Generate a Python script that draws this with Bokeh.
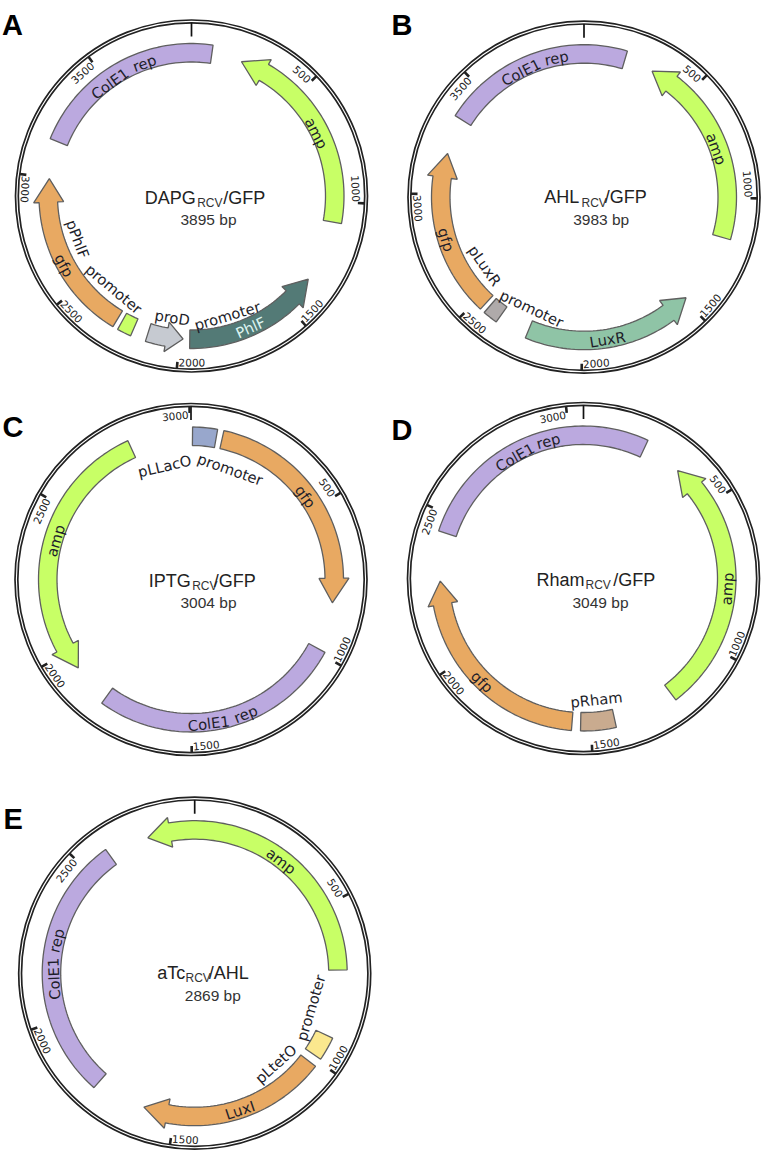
import math
from bokeh.plotting import figure
from bokeh.models import Range1d
from bokeh.core.properties import value
from bokeh.embed import file_html
from bokeh.resources import INLINE

# ---- data: plasmid sizes (bp) and features ----
panel_letters = ["A", "B", "C", "D", "E"]
sizes = [3895, 3983, 3004, 3049, 2869]
name_main = ["DAPG", "AHL", "IPTG", "Rham", "aTc"]
name_sub = ["RCV", "RCV", "RCV", "RCV", "RCV"]
name_tail = ["/GFP", "/GFP", "/GFP", "/GFP", "/AHL"]

# arrows: (tail bp, head-base bp, tip bp, colour key)
arrows_A = [(1087, 328, 221, "amp"), (2283, 2894, 2997, "gfp"), (2138, 2056, 1984, "grey"), (1955, 1461, 1357, "phlf")]
arrows_B = [(1175, 416, 314, "amp"), (2465, 3076, 3184, "gfp"), (2242, 1591, 1489, "luxr")]
arrows_C = [(104, 747, 829, "gfp"), (2800, 2016, 1935, "amp")]
arrows_D = [(1209, 430, 348, "amp"), (1563, 2199, 2278, "gfp")]
arrows_E = [(707, -79, -152, "amp"), (1017, 1523, 1600, "gfp")]
# blocks: (from bp, to bp, colour key)
blocks_A = [(3160, 3983, "cole1"), (2202, 2261, "amp")]
blocks_B = [(3345, 4166, "cole1"), (2380, 2444, "pluxr")]
blocks_C = [(989, 1801, "cole1"), (5, 84, "plac")]
blocks_D = [(2441, 3261, "cole1"), (1419, 1534, "prham")]
blocks_E = [(1764, 2584, "cole1"), (918, 991, "ptet")]
# labels: (word, degrees clockwise from top, radius)
labels_A = [("ColE1", 324, 139), ("rep", 340.5, 141), ("amp", 63.3, 140), ("gfp", 241.4, 145),
            ("pPhlF", 249.3, 121.5), ("promoter", 219.9, 121), ("proD", 189, 123),
            ("promoter", 163.4, 125), ("PhlF", 155.8, 144)]
labels_B = [("ColE1", 333.2, 140), ("rep", 348.8, 142), ("amp", 69.9, 141), ("gfp", 252.9, 144),
            ("pLuxR", 235.4, 120.5), ("promoter", 205.2, 123), ("LuxR", 170.6, 144)]
labels_C = [("pLLacO", 346.9, 116.6), ("promoter", 19.6, 117), ("gfp", 54, 141.5),
            ("ColE1", 173, 145), ("rep", 157.9, 145), ("amp", 286, 141)]
labels_D = [("ColE1", 330.5, 139.5), ("rep", 345.6, 142), ("amp", 94.1, 144), ("gfp", 224.5, 144.5),
            ("pRham", 173.9, 121.7)]
labels_E = [("amp", 37.6, 141.8), ("ColE1", 267.7, 141), ("rep", 283.3, 142), ("LuxI", 161.7, 144),
            ("pLtetO", 138.2, 121.6), ("promoter", 106.6, 121)]

arrows = [arrows_A, arrows_B, arrows_C, arrows_D, arrows_E]
blocks = [blocks_A, blocks_B, blocks_C, blocks_D, blocks_E]
labels = [labels_A, labels_B, labels_C, labels_D, labels_E]

# ---- styling / layout ----
colors = {"amp": "#C8FF66", "gfp": "#E8A962", "cole1": "#BBA9DF", "grey": "#C6CAD1", "phlf": "#537A76",
          "luxr": "#8FC4A6", "pluxr": "#AFAAAA", "plac": "#98A7CC", "prham": "#C9AB8F", "ptet": "#FBE88E"}
centers = [(191, 195.5), (583.5, 196.7), (190.5, 579), (583, 578), (194.2, 972.7)]
letter_pos = [(1.5, 24.3), (391, 24), (2, 426.7), (391, 429.3), (3, 818.3)]
title_x = [(144.3, 196.7, 222.7, 180), (543.7, 581, 604.3, 572.7), (148.3, 191.7, 213.3, 180),
           (536, 585, 612.7, 572), (156.7, 185, 208.3, 184.3)]
title_y = [(197.3, 202.7, 219), (196.7, 202, 219), (580, 585, 602.3), (579, 584.3, 601.7), (972, 977, 995)]
R_OUT, R_IN = 176, 173.2
BODY_IN, BODY_OUT, HEAD_IN, HEAD_OUT = 134, 152.5, 128, 158
FONT_SANS = value("Liberation Sans")
FONT_VERA = value("DejaVu Sans")


def px(size):
    return f"{size:.2f}px"


def polar(c, deg, r):
    a = math.radians(deg)
    return c[0] + r * math.sin(a), c[1] - r * math.cos(a)


def arc(c, d0, d1, r):
    n = max(2, int(abs(d1 - d0) / 1.5) + 2)
    return [polar(c, d0 + (d1 - d0) * i / (n - 1), r) for i in range(n)]


p = figure(width=762, height=1151, output_backend="svg", toolbar_location=None,
           x_range=Range1d(0, 762), y_range=Range1d(1151, 0), min_border=0,
           background_fill_color="white", border_fill_color="white", outline_line_color=None)
p.axis.visible = False
p.grid.visible = False

for i in range(5):
    c, total = centers[i], sizes[i]
    deg = lambda bp: bp / total * 360.0

    # backbone ring
    for r in (R_OUT, R_IN):
        p.ellipse([c[0]], [c[1]], width=[2 * r], height=[2 * r], fill_color=None,
                  line_color="#222222", line_width=1.7)

    # origin tick and 500 bp ticks
    x0, y0 = polar(c, 0, R_IN)
    x1, y1 = polar(c, 0, 159.5)
    p.segment([x0], [y0], [x1], [y1], line_color="#111111", line_width=1.7)
    for t in range(500, total, 500):
        th = deg(t)
        x0, y0 = polar(c, th, R_IN)
        x1, y1 = polar(c, th, 166.5)
        p.segment([x0], [y0], [x1], [y1], line_color="#222222", line_width=2.6)
        off = 5.0 if t >= 1000 else 4.0
        lab = th - off
        flip = 90 < lab < 275
        lx, ly = polar(c, lab, 166.5 if flip else 164.3)
        rot = math.radians(-(lab - 180) if flip else -lab)
        p.text([lx], [ly], text=[str(t)], angle=rot, text_align="center", text_baseline="middle",
               text_font=FONT_VERA, text_font_size=px(10.5), text_color="#222222")

    # blocks
    for b0, b1, key in blocks[i]:
        d0, d1 = deg(b0), deg(b1)
        pts = arc(c, d0, d1, BODY_OUT) + arc(c, d1, d0, BODY_IN)
        p.patch([q[0] for q in pts], [q[1] for q in pts], fill_color=colors[key],
                line_color="#5F5F5F", line_width=1.3)

    # arrows
    for tail, base, tip, key in arrows[i]:
        d0, d1, d2 = deg(tail), deg(base), deg(tip)
        pts = (arc(c, d0, d1, BODY_OUT) + [polar(c, d1, HEAD_OUT), polar(c, d2, (BODY_IN + BODY_OUT) / 2),
               polar(c, d1, HEAD_IN)] + arc(c, d1, d0, BODY_IN))
        p.patch([q[0] for q in pts], [q[1] for q in pts], fill_color=colors[key],
                line_color="#5F5F5F", line_width=1.3)

    # feature labels
    for word, th, r in labels[i]:
        lx, ly = polar(c, th, r)
        flip = 90 < th < 260
        rot = math.radians(-(th - 180) if flip else -th)
        col = "#DDF3F0" if word == "PhlF" else "#1E1E2A"
        p.text([lx], [ly], text=[word], angle=rot, text_align="center", text_baseline="middle",
               text_font=FONT_VERA, text_font_size=px(14.7), text_color=col)

    # central title
    xs, ys = title_x[i], title_y[i]
    p.text([xs[0]], [ys[0]], text=[name_main[i]], text_font=FONT_SANS, text_font_size=px(18),
           text_baseline="alphabetic", text_color="#222222")
    p.text([xs[1]], [ys[1]], text=[name_sub[i]], text_font=FONT_SANS, text_font_size=px(12),
           text_baseline="alphabetic", text_color="#333333")
    p.text([xs[2]], [ys[0]], text=[name_tail[i]], text_font=FONT_SANS, text_font_size=px(18),
           text_baseline="alphabetic", text_color="#222222")
    p.text([xs[3]], [ys[2]], text=[f"{total} bp"], text_font=FONT_SANS, text_font_size=px(15.5),
           text_baseline="alphabetic", text_color="#333333")

    # panel letter
    p.text([letter_pos[i][0]], [letter_pos[i][1]], text=[panel_letters[i]], text_font=FONT_SANS,
           text_font_style="bold", text_font_size=px(29), text_baseline="alphabetic", text_color="#000000")

open("out.html", "w").write(file_html(p, INLINE))
